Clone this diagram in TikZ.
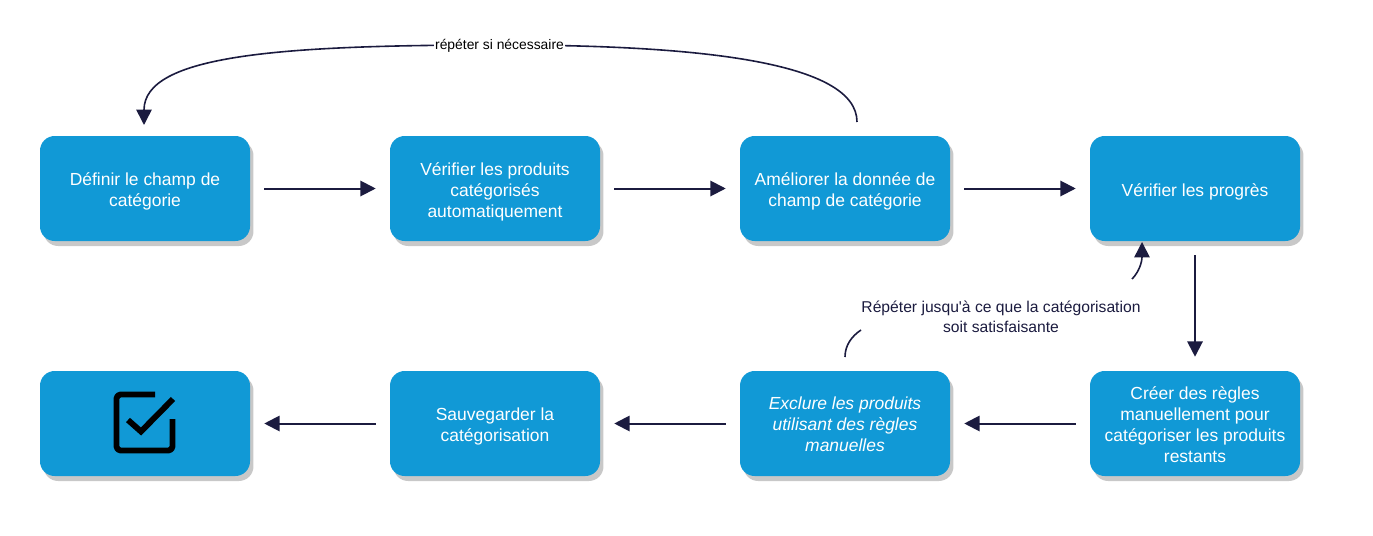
\documentclass[tikz,border=0pt]{standalone}
\usepackage{fontspec}
\setmainfont[Ligatures=TeXOff]{Liberation Sans}
\usetikzlibrary{arrows.meta,shadows}
\definecolor{boxblue}{HTML}{1199D6}
\definecolor{boxshadow}{HTML}{C8C8C8}
\definecolor{arrowink}{HTML}{1B1B3F}
\newcommand{\lowerby}[1]{\rule{0pt}{#1}}
\tikzset{
	stepbox/.style={rounded corners=11pt, fill=boxblue, text=white, align=center, inner sep=0pt,
		minimum width=157.5pt, minimum height=78.75pt,
		font=\fontsize{13.1}{15.75}\selectfont,
		general shadow={shadow xshift=2.6pt, shadow yshift=-3.75pt, fill=boxshadow}},
	flow/.style={draw=arrowink, line width=1.5pt, -{Triangle[length=11.5pt,width=11.5pt]}, shorten >=10.5pt, shorten <=10.5pt},
	loopline/.style={draw=arrowink, line width=1.2pt},
	looptip/.style={-{Triangle[length=11.5pt,width=11.5pt]}}
}
\begin{document}
\begin{tikzpicture}[x=0.75pt,y=-0.75pt]
	\useasboundingbox (0,0) rectangle (1373,535);
	% top row
	\node [stepbox] (champ) at (145,188.5) {\lowerby{14.5pt}Définir le champ de\\catégorie};
	\node [stepbox] (verif) at (495,188.5) {\lowerby{14.5pt}Vérifier les produits\\catégorisés\\automatiquement};
	\node [stepbox] (ameliorer) at (845,188.5) {\lowerby{14.5pt}Améliorer la donnée de\\champ de catégorie};
	\node [stepbox] (progres) at (1195,188.5) {\lowerby{14.5pt}Vérifier les progrès};
	% bottom row
	\node [stepbox] (regles) at (1195,423.5) {\lowerby{11pt}Créer des règles\\manuellement pour\\catégoriser les produits\\restants};
	\node [stepbox, font=\fontsize{13.1}{15.75}\selectfont\itshape] (exclure) at (845,423.5) {\lowerby{11pt}Exclure les produits\\utilisant des règles\\manuelles};
	\node [stepbox] (sauver) at (495,423.5) {\lowerby{14.5pt}Sauvegarder la\\catégorisation};
	\node [stepbox] (fini) at (145,423.5) {};
	% check box icon
	\draw [line width=4.4pt, line join=round, rounded corners=3pt] (155,394.5) -- (116.5,394.5) -- (116.5,450.5) -- (172.5,450.5) -- (172.5,419);
	\draw [line width=4.4pt] (128,420) -- (141,431.5) -- (173,399);
	% flow arrows
	\draw [flow] (champ.east) -- (verif.west);
	\draw [flow] (verif.east) -- (ameliorer.west);
	\draw [flow] (ameliorer.east) -- (progres.west);
	\draw [flow] (progres.south) -- (regles.north);
	\draw [flow] (regles.west) -- (exclure.east);
	\draw [flow] (exclure.west) -- (sauver.east);
	\draw [flow] (sauver.west) -- (fini.east);
	% loop over the top row
	\coordinate (loopout) at (857,122);
	\coordinate (loopin) at (144,125);
	\draw [loopline, looptip] (loopout) .. controls (857,62) and (700,45) .. (500,45)
		.. controls (280,45) and (144,55) .. (loopin);
	\node [fill=white, inner xsep=1pt, inner ysep=1pt, font=\fontsize{10.4}{12}\selectfont] (encore) at (499.5,45.5) {répéter si nécessaire};
	% loop from the bottom row
	\node [font=\fontsize{11.75}{15}\selectfont, text=arrowink, align=center] (jusqua) at (1001,317) {Répéter jusqu'à ce que la catégorisation\\soit satisfaisante};
	\coordinate (sortie) at (845,357);
	\coordinate (sortiefin) at (861,330);
	\coordinate (retour) at (1132,279);
	\coordinate (retourfin) at (1142,242);
	\draw [loopline] (sortie) .. controls (845,345) and (852,336) .. (sortiefin);
	\draw [loopline, looptip] (retour) .. controls (1139,272) and (1142,262) .. (retourfin);
\end{tikzpicture}
\end{document}
